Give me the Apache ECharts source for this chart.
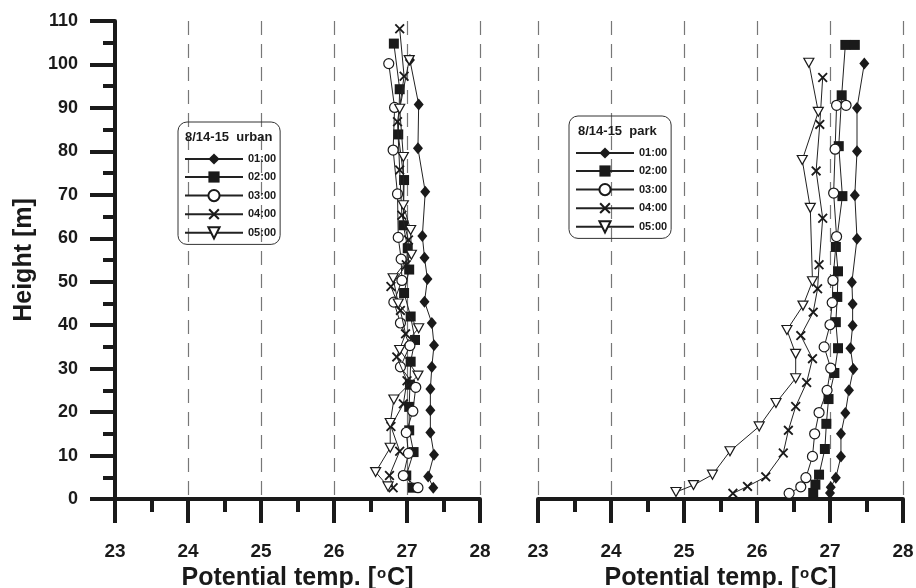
<!DOCTYPE html>
<html>
<head>
<meta charset="utf-8">
<script src="https://cdn.jsdelivr.net/npm/echarts@6/dist/echarts.min.js"></script>
<style>
html,body{margin:0;padding:0;background:#fff;}
#c{width:916px;height:588px;}
</style>
</head>
<body>
<div id="c"></div>
<script>
// ---- data: [potential temperature (°C), height (m)] ----
const seriesNames = ['01:00', '02:00', '03:00', '04:00', '05:00'];
const panelTitles = ['8/14-15  urban', '8/14-15  park'];
const xAxisName = 'Potential temp. [{sup|o}C]';
const yAxisName = 'Height [m]';

const urban0100 = [[27.36,2.6],[27.29,5.2],[27.37,10.2],[27.32,15.3],[27.32,20.4],[27.32,25.3],[27.34,30.4],[27.37,35.4],[27.34,40.5],[27.24,45.4],[27.28,50.6],[27.24,55.5],[27.21,60.5],[27.25,70.7],[27.15,80.7],[27.16,90.8],[27.04,101.0]];
const urban0200 = [[27.08,2.6],[26.99,5.4],[27.09,10.8],[27.03,15.8],[27.03,21.2],[27.04,26.3],[27.05,31.6],[27.11,36.6],[27.05,42.0],[26.96,47.4],[27.03,52.8],[27.01,57.7],[26.95,63.0],[26.96,73.4],[26.88,83.9],[26.90,94.3],[26.82,104.8]];
const urban0300 = [[27.15,2.6],[26.95,5.4],[27.02,10.5],[26.99,15.3],[27.08,20.2],[27.12,25.7],[26.91,30.4],[27.04,35.3],[26.91,40.5],[26.82,45.3],[26.93,50.3],[26.92,55.2],[26.88,60.2],[26.87,70.2],[26.81,80.3],[26.83,90.1],[26.75,100.2]];
const urban0400 = [[26.81,2.6],[26.76,5.4],[26.90,11.0],[26.78,16.7],[26.95,21.9],[27.00,27.2],[26.86,32.7],[26.98,38.0],[26.91,43.4],[26.78,48.9],[26.99,53.9],[27.02,59.6],[26.93,65.3],[26.90,75.7],[26.87,86.8],[26.96,97.3],[26.90,108.2]];
const urban0500 = [[26.74,2.9],[26.57,6.2],[26.77,11.8],[26.77,17.5],[26.82,22.9],[27.15,28.4],[26.90,34.3],[27.16,39.3],[26.88,45.0],[26.81,50.8],[27.06,56.2],[27.05,61.9],[26.95,67.6],[26.95,78.7],[26.90,89.8],[27.03,101.0]];

const park0100 = [[27.00,1.4],[27.01,2.7],[27.08,4.9],[27.15,9.8],[27.15,15.0],[27.21,19.8],[27.26,25.0],[27.32,29.9],[27.28,34.7],[27.31,39.9],[27.31,44.9],[27.30,49.9],[27.37,59.9],[27.34,69.9],[27.37,80.0],[27.37,90.0],[27.47,100.2]];
const park0200 = [[26.77,1.4],[26.80,3.3],[26.85,5.6],[26.93,11.5],[26.95,17.3],[26.98,23.0],[27.06,29.0],[27.11,34.7],[27.08,40.7],[27.10,46.5],[27.11,52.4],[27.08,58.0],[27.17,69.7],[27.12,81.2],[27.16,92.9],[27.21,104.5],[27.34,104.5]];
const park0300 = [[26.44,1.3],[26.60,2.8],[26.67,4.9],[26.76,9.8],[26.79,15.0],[26.85,19.9],[26.96,25.0],[27.01,30.1],[26.92,35.0],[27.00,40.1],[27.03,45.2],[27.04,50.3],[27.09,60.4],[27.05,70.4],[27.07,80.5],[27.09,90.6],[27.22,90.6]];
const park0400 = [[25.67,1.3],[25.87,2.9],[26.12,5.1],[26.36,10.6],[26.43,15.8],[26.53,21.3],[26.68,26.8],[26.76,32.3],[26.60,37.6],[26.77,43.0],[26.83,48.4],[26.85,53.9],[26.90,64.6],[26.81,75.5],[26.86,86.2],[26.90,97.0]];
const park0500 = [[24.89,1.6],[25.13,3.2],[25.39,5.6],[25.63,11.0],[26.03,16.7],[26.26,22.1],[26.53,27.8],[26.53,33.4],[26.41,38.9],[26.63,44.5],[26.76,50.1],[26.73,67.0],[26.62,78.0],[26.84,89.1],[26.71,100.4]];

const urbanData = [urban0100, urban0200, urban0300, urban0400, urban0500];
const parkData = [park0100, park0200, park0300, park0400, park0500];

// ---- styling ----
const INK = '#1a1a1a';
const NARROW = '"Liberation Sans Narrow","Arial Narrow","Liberation Sans",Arial,sans-serif';
const SANS = '"Liberation Sans",Arial,Helvetica,sans-serif';
const X_PATH = 'path://M0,1.3L1.3,0L5,3.7L8.7,0L10,1.3L6.3,5L10,8.7L8.7,10L5,6.3L1.3,10L0,8.7L3.7,5Z';
const TRI_PATH = 'path://M0,0L10,0L5,9Z';
const markerStyles = [
  { symbol: 'diamond', symbolSize: [10, 12], itemStyle: { color: INK } },
  { symbol: 'rect', symbolSize: 10, itemStyle: { color: INK } },
  { symbol: 'circle', symbolSize: 10, itemStyle: { color: '#fff', borderColor: INK, borderWidth: 1.2 } },
  { symbol: X_PATH, symbolSize: 10, itemStyle: { color: INK } },
  { symbol: TRI_PATH, symbolSize: [10, 9], itemStyle: { color: '#fff', borderColor: INK, borderWidth: 1.2 } }
];

const grids = [
  { left: 115, top: 21, width: 365, height: 478, outerBoundsMode: 'none', containLabel: false },
  { left: 538, top: 21, width: 365, height: 478, outerBoundsMode: 'none', containLabel: false }
];

function makeXAxis(i) {
  return {
    type: 'value', gridIndex: i, min: 23, max: 28, interval: 1,
    name: xAxisName, nameLocation: 'middle', nameGap: 60,
    nameTextStyle: { fontFamily: SANS, fontWeight: 'bold', fontSize: 25, color: INK,
      rich: { sup: { fontFamily: SANS, fontWeight: 'bold', fontSize: 15, color: INK, verticalAlign: 'top', padding: [0, 1, 8, 1] } } },
    axisLine: { show: true, onZero: false, lineStyle: { color: INK, width: 4 } },
    axisTick: { show: true, length: 24, lineStyle: { color: INK, width: 4 } },
    minorTick: { show: true, splitNumber: 2, length: 13, lineStyle: { color: INK, width: 4 } },
    axisLabel: { margin: 43, fontFamily: SANS, fontWeight: 'bold', fontSize: 19, color: INK },
    splitLine: { show: true, lineStyle: { color: '#777', width: 1.2, type: [14, 9] } },
    minorSplitLine: { show: false }
  };
}

function makeYAxis(i) {
  const show = i === 0;
  return {
    type: 'value', gridIndex: i, min: 0, max: 110, interval: 10,
    show: true,
    name: show ? yAxisName : '', nameLocation: 'middle', nameGap: 78, nameRotate: 90,
    nameTextStyle: { fontFamily: SANS, fontWeight: 'bold', fontSize: 25, color: INK },
    axisLine: { show: show, onZero: false, lineStyle: { color: INK, width: 4 } },
    axisTick: { show: show, length: 25, lineStyle: { color: INK, width: 4 } },
    minorTick: { show: show, splitNumber: 2, length: 12, lineStyle: { color: INK, width: 4 } },
    axisLabel: { show: show, margin: 37, fontFamily: SANS, fontWeight: 'bold', fontSize: 18, color: INK },
    splitLine: { show: false }
  };
}

const series = [];
[urbanData, parkData].forEach((panel, p) => {
  panel.forEach((d, k) => {
    series.push(Object.assign({
      type: 'line', name: seriesNames[k], xAxisIndex: p, yAxisIndex: p,
      data: d, showAllSymbol: true, clip: false, animation: false,
      lineStyle: { color: '#222', width: 1 }, z: 2 + k
    }, markerStyles[k]));
  });
});

function makeLegend(left, top) {
  return {
    data: seriesNames, orient: 'vertical', left: left, top: top,
    itemWidth: 58, itemHeight: 14, itemGap: 6,
    padding: [31, 4, 5, 6],
    borderColor: '#333', borderWidth: 1, borderRadius: 9,
    selectedMode: false,
    textStyle: { fontFamily: NARROW, fontWeight: 'bold', fontSize: 11, lineHeight: 12, color: INK, padding: [0, 0, 0, 0] }
  };
}

const option = {
  animation: false,
  backgroundColor: '#fff',
  grid: grids,
  xAxis: [makeXAxis(0), makeXAxis(1)],
  yAxis: [makeYAxis(0), makeYAxis(1)],
  title: [
    { text: panelTitles[0], left: 185, top: 131, padding: 0,
      textStyle: { fontFamily: NARROW, fontWeight: 'bold', fontSize: 13, color: INK } },
    { text: panelTitles[1], left: 578, top: 125, padding: 0,
      textStyle: { fontFamily: NARROW, fontWeight: 'bold', fontSize: 13, color: INK } }
  ],
  legend: [makeLegend(178, 122), makeLegend(569, 116)],
  series: series
};

const chart = echarts.init(document.getElementById('c'), null, { renderer: 'canvas' });
chart.setOption(option);
</script>
</body>
</html>
